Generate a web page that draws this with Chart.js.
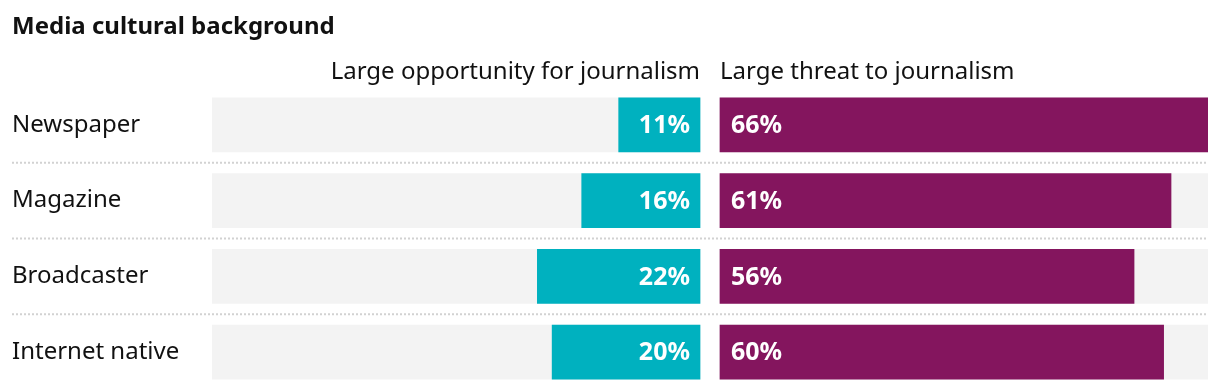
<!DOCTYPE html>
<html>
<head>
<meta charset="utf-8">
<script src="https://cdn.jsdelivr.net/npm/chart.js@4"></script>
<style>
  body { margin: 0; background: #fff; }
  #wrap { width: 1220px; height: 390px; }
</style>
</head>
<body>
<div id="wrap"><canvas id="mediaChart"></canvas></div>
<script>
// data
const categories = ["Newspaper", "Magazine", "Broadcaster", "Internet native"];
const opportunity = [11, 16, 22, 20];
const threat = [66, 61, 56, 60];
const headers = ["Large opportunity for journalism", "Large threat to journalism"];
const axisMax = 66;

const GAP = 2.7; // space between the two halves, in axis units
const FONT = "'Noto Sans', sans-serif";
const TEAL = "#00b1bf";
const PURPLE = "#84155e";
const GREY = "#f3f3f3";

// left half is drawn on the negative side of the axis
const leftBars = opportunity.map(v => [-GAP - v, -GAP]);
const rightBars = threat.map(v => [0, v]);
const leftBg = categories.map(() => [-GAP - axisMax, -GAP]);
const rightBg = categories.map(() => [0, axisMax]);

// dotted separators, column headers and value labels
const extrasPlugin = {
  id: "extras",
  afterDatasetsDraw(chart) {
    const ctx = chart.ctx;
    const x = chart.scales.x;
    const y = chart.scales.y;
    const area = chart.chartArea;

    ctx.save();

    // row separators
    ctx.strokeStyle = "#d2d2d2";
    ctx.lineWidth = 2;
    ctx.setLineDash([2, 2]);
    for (let i = 0; i < categories.length - 1; i++) {
      const yy = (y.getPixelForValue(i) + y.getPixelForValue(i + 1)) / 2;
      ctx.beginPath();
      ctx.moveTo(12, yy);
      ctx.lineTo(area.right, yy);
      ctx.stroke();
    }
    ctx.setLineDash([]);

    // headers
    ctx.fillStyle = "#111";
    ctx.font = "24px " + FONT;
    ctx.textBaseline = "middle";
    ctx.textAlign = "right";
    ctx.fillText(headers[0], x.getPixelForValue(-GAP), area.top - 15);
    ctx.textAlign = "left";
    ctx.fillText(headers[1], x.getPixelForValue(0), area.top - 15);

    // values inside bars
    ctx.fillStyle = "#fff";
    ctx.font = "bold 25px " + FONT;
    categories.forEach((c, i) => {
      const yy = y.getPixelForValue(i) + 1;
      ctx.textAlign = "right";
      ctx.fillText(opportunity[i] + "%", x.getPixelForValue(-GAP) - 10, yy);
      ctx.textAlign = "left";
      ctx.fillText(threat[i] + "%", x.getPixelForValue(0) + 11, yy);
    });

    ctx.restore();
  }
};

const barCommon = {
  grouped: false,
  barThickness: 54,
  borderWidth: 0,
  borderSkipped: false
};

new Chart(document.getElementById("mediaChart"), {
  type: "bar",
  data: {
    labels: categories,
    datasets: [
      { ...barCommon, data: leftBars, backgroundColor: TEAL, order: 0 },
      { ...barCommon, data: rightBars, backgroundColor: PURPLE, order: 0 },
      { ...barCommon, data: leftBg, backgroundColor: GREY, order: 1 },
      { ...barCommon, data: rightBg, backgroundColor: GREY, order: 1 }
    ]
  },
  options: {
    indexAxis: "y",
    responsive: true,
    maintainAspectRatio: false,
    animation: false,
    layout: { padding: { left: 12, right: 12, top: 0, bottom: 0 } },
    plugins: {
      legend: { display: false },
      tooltip: { enabled: false },
      title: {
        display: true,
        text: "Media cultural background",
        align: "start",
        color: "#111",
        font: { family: FONT, size: 24, weight: "bold" },
        padding: { top: 13, bottom: 45.2 }
      }
    },
    scales: {
      x: {
        display: false,
        min: -GAP - axisMax,
        max: axisMax
      },
      y: {
        grid: { display: false },
        border: { display: false },
        ticks: {
          crossAlign: "far",
          color: "#111",
          padding: 0,
          font: { family: FONT, size: 24 }
        },
        afterFit(scale) {
          scale.width = 200;
          // no extra room for half a label above/below the rows
          scale.paddingTop = 0;
          scale.paddingBottom = 0;
        }
      }
    }
  },
  plugins: [extrasPlugin]
});
</script>
</body>
</html>
